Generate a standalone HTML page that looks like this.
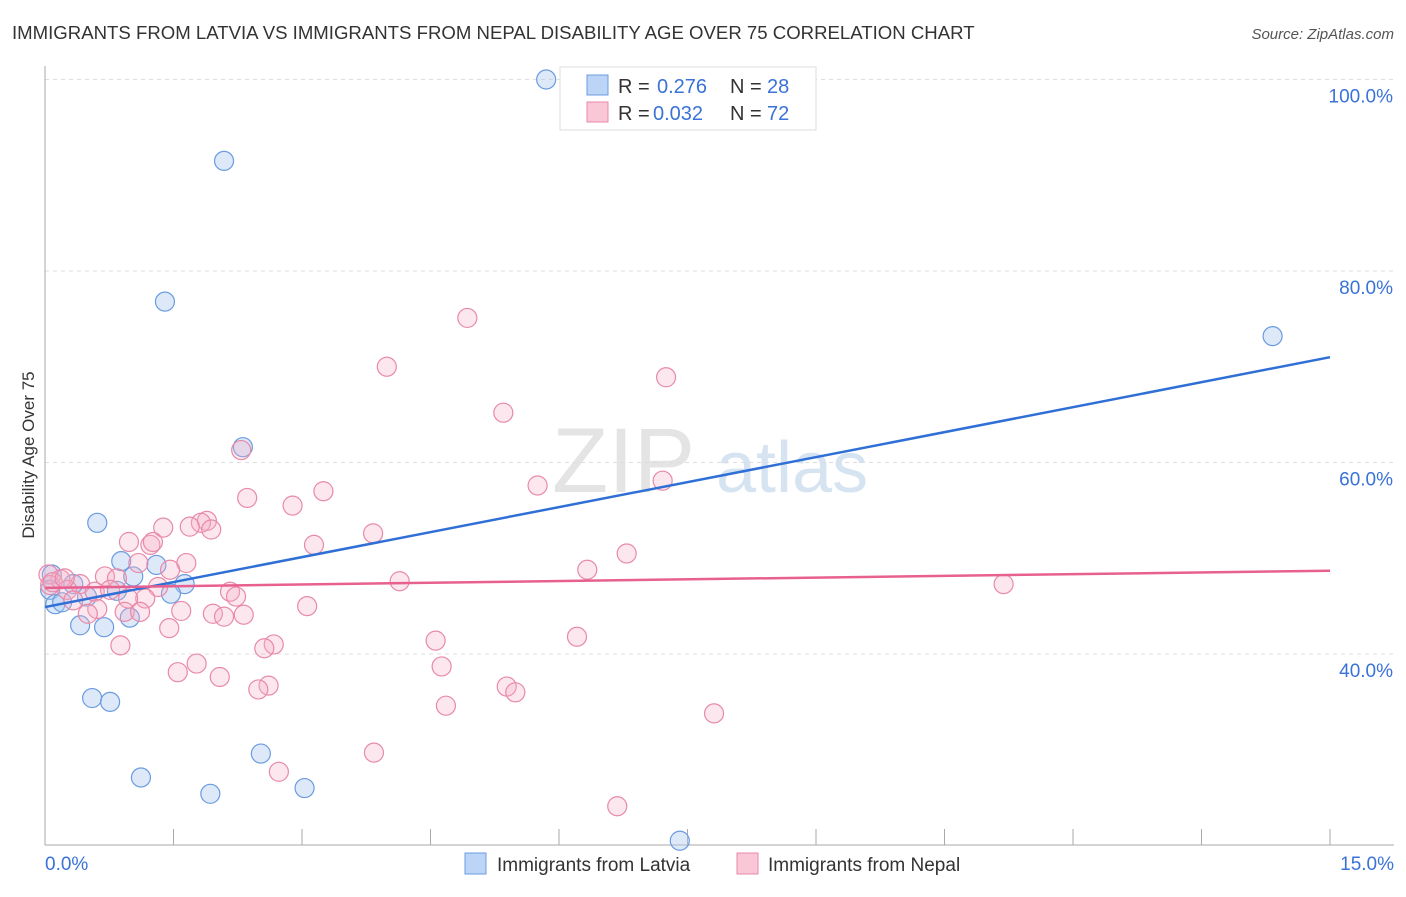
<!DOCTYPE html>
<html><head><meta charset="utf-8"><style>
body{margin:0;background:#fff;font-family:"Liberation Sans",sans-serif;}
svg text{font-family:"Liberation Sans",sans-serif;}
</style></head><body>
<svg id="chart" width="1406" height="892" xmlns="http://www.w3.org/2000/svg">
<text x="12" y="39" font-size="18.6" fill="#333">IMMIGRANTS FROM LATVIA VS IMMIGRANTS FROM NEPAL DISABILITY AGE OVER 75 CORRELATION CHART</text>
<text x="1394" y="39" font-size="15" fill="#555" font-style="italic" text-anchor="end">Source: ZipAtlas.com</text>
<g><text x="552" y="492" font-size="92" fill="#e4e4e4" font-family="Liberation Serif,serif">ZIP</text><text x="716" y="492" font-size="72" fill="#d6e4f2">atlas</text></g>
<g id="grid"></g><g id="axes"></g><g id="lines"></g><g id="pts"></g>
<text transform="translate(34,455) rotate(-90)" font-size="17" fill="#333" text-anchor="middle">Disability Age Over 75</text>
<g>
<rect x="560" y="67" width="256" height="63" fill="#fff" stroke="#ddd"/>
<rect x="587" y="75" width="21" height="20" fill="#bcd4f5" stroke="#6a9be0"/>
<text x="618" y="93" font-size="20" fill="#333">R =</text><text x="657" y="93" font-size="20" fill="#3a72d8">0.276</text>
<text x="730" y="93" font-size="20" fill="#333">N =</text><text x="767" y="93" font-size="20" fill="#3a72d8">28</text>
<rect x="587" y="102" width="21" height="20" fill="#f9c7d6" stroke="#e88aa8"/>
<text x="618" y="120" font-size="20" fill="#333">R =</text><text x="653" y="120" font-size="20" fill="#3a72d8">0.032</text>
<text x="730" y="120" font-size="20" fill="#333">N =</text><text x="767" y="120" font-size="20" fill="#3a72d8">72</text>
</g>
<g>
<rect x="465" y="853" width="21" height="21" fill="#bcd4f5" stroke="#6a9be0"/>
<text x="497" y="871" font-size="19" fill="#333">Immigrants from Latvia</text>
<rect x="737" y="853" width="21" height="21" fill="#f9c7d6" stroke="#e88aa8"/>
<text x="768" y="871" font-size="19" fill="#333">Immigrants from Nepal</text>
</g>
</svg>
<script>
const yTicks=[40,60,80,100];
const yTickLabels=["40.0%","60.0%","80.0%","100.0%"];
const latviaX=[5.85,2.09,1.40,14.33,2.31,0.61,0.89,1.30,1.03,1.63,1.47,0.84,0.33,0.08,0.06,0.12,0.20,0.49,0.41,0.69,0.99,0.55,0.76,2.52,1.12,3.03,1.93,7.41];
const latviaY=[100.0,91.5,76.8,73.2,61.6,53.7,49.7,49.3,48.1,47.3,46.3,46.6,47.3,48.3,46.7,45.2,45.4,46.0,43.0,42.8,43.8,35.4,35.0,29.6,27.1,26.0,25.4,20.5];
const nepalX=[4.93,3.99,7.25,5.35,2.29,5.75,7.21,2.36,3.25,2.89,1.89,1.82,1.69,1.38,1.94,3.83,3.14,0.98,1.23,1.26,6.79,1.65,1.09,6.33,1.46,0.70,0.84,4.14,11.19,1.32,0.41,0.18,0.04,0.06,0.09,0.26,0.58,2.16,2.23,1.17,0.97,0.33,0.61,3.06,0.93,1.59,2.32,1.96,2.09,1.45,0.50,4.56,6.21,0.88,2.67,2.56,4.63,1.77,1.55,2.04,2.61,2.49,5.39,5.49,4.68,7.81,3.84,2.73,6.68,0.23,0.76,1.11];
const nepalY=[75.1,70.0,68.9,65.2,61.3,57.6,58.1,56.3,57.0,55.5,53.9,53.7,53.3,53.2,53.0,52.6,51.4,51.7,51.4,51.7,50.5,49.5,49.5,48.8,48.8,48.1,47.9,47.6,47.3,47.0,47.3,47.8,48.3,47.2,47.5,46.7,46.5,46.5,46.0,45.8,45.8,45.6,44.7,45.0,44.4,44.5,44.1,44.2,43.9,42.7,44.2,41.4,41.8,40.9,41.0,40.6,38.7,39.0,38.1,37.6,36.7,36.3,36.6,36.0,34.6,33.8,29.7,27.7,24.1,47.9,46.7,44.4];
const latviaTrend=[44.9,71.0];
const nepalTrend=[46.9,48.7];
const xs=v=>45+v*(1285/15);
const ys=v=>654-(v-40)*9.575;
const NS="http://www.w3.org/2000/svg";
function mk(tag,attrs,parent){const e=document.createElementNS(NS,tag);for(const k in attrs)e.setAttribute(k,attrs[k]);parent.appendChild(e);return e;}
const grid=document.getElementById('grid'),axes=document.getElementById('axes'),lines=document.getElementById('lines'),pts=document.getElementById('pts');
yTicks.forEach((t,i)=>{
 const l=mk('line',{x1:45,x2:1394,y1:ys(t),y2:ys(t),stroke:'#ddd','stroke-dasharray':'4,4'},grid);
 
 
 const tx=mk('text',{x:1393,y:ys(t)+23,'font-size':19,fill:'#3a72d8','text-anchor':'end'},axes);
 tx.textContent=yTickLabels[i];
 
 
});
const ya=mk('line',{x1:45,x2:45,y1:66,y2:845,stroke:'#aaa'},axes);


const xa=mk('line',{x1:45,x2:1394,y1:845,y2:845,stroke:'#aaa'},axes);


for(let i=0;i<=10;i++){const t=mk('line',{x1:xs(i*1.5),x2:xs(i*1.5),y1:829,y2:845,stroke:'#aaa'},axes);
 
 }
const xl0=mk('text',{x:45,y:870,'font-size':19,fill:'#3a72d8'},axes);xl0.textContent='0.0%';


const xl1=mk('text',{x:1394,y:870,'font-size':19,fill:'#3a72d8','text-anchor':'end'},axes);xl1.textContent='15.0%';


latviaX.forEach((x,i)=>{const c=mk('circle',{cx:xs(x),cy:ys(latviaY[i]),r:9.5,fill:'rgba(170,200,240,0.4)',stroke:'#6a9be0','stroke-width':1.2},pts);
 
 });
nepalX.forEach((x,i)=>{const c=mk('circle',{cx:xs(x),cy:ys(nepalY[i]),r:9.5,fill:'rgba(245,175,200,0.3)',stroke:'#e88aa8','stroke-width':1.2},pts);
 
 });
const lt=mk('line',{x1:xs(0),y1:ys(latviaTrend[0]),x2:xs(15),y2:ys(latviaTrend[1]),stroke:'#2f6fd6','stroke-width':2.5},lines);


const nt=mk('line',{x1:xs(0),y1:ys(nepalTrend[0]),x2:xs(15),y2:ys(nepalTrend[1]),stroke:'#e8608f','stroke-width':2.5},lines);


document.getElementById('chart').appendChild(lines);
</script>
</body></html>
